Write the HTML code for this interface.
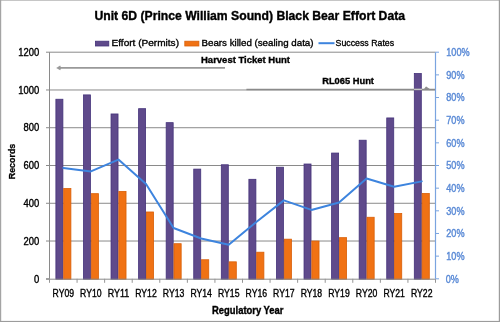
<!DOCTYPE html>
<html><head><meta charset="utf-8"><style>
html,body{margin:0;padding:0;background:#fff;}
body{width:500px;height:322px;overflow:hidden;position:relative;}
svg{position:absolute;left:0;top:0;will-change:transform;}
text{font-family:"Liberation Sans",sans-serif;}
</style></head><body>
<svg width="500" height="322" viewBox="0 0 500 322">
<rect x="0" y="0" width="500" height="322" fill="#fff"/>
<line x1="46.0" y1="278.80" x2="49.5" y2="278.80" stroke="#8a8a8a" stroke-width="1"/>
<line x1="46.0" y1="241.03" x2="435.5" y2="241.03" stroke="#8a8a8a" stroke-width="1"/>
<line x1="46.0" y1="203.27" x2="435.5" y2="203.27" stroke="#8a8a8a" stroke-width="1"/>
<line x1="46.0" y1="165.50" x2="435.5" y2="165.50" stroke="#8a8a8a" stroke-width="1"/>
<line x1="46.0" y1="127.73" x2="435.5" y2="127.73" stroke="#8a8a8a" stroke-width="1"/>
<line x1="46.0" y1="89.97" x2="435.5" y2="89.97" stroke="#8a8a8a" stroke-width="1"/>
<line x1="46.0" y1="52.20" x2="435.5" y2="52.20" stroke="#8a8a8a" stroke-width="1"/>
<line x1="49.5" y1="52.2" x2="49.5" y2="278.8" stroke="#8a8a8a" stroke-width="1"/>
<rect x="55.89" y="99.24" width="7.00" height="179.96" fill="#5f4a8b" stroke="#44327a" stroke-width="0.8"/>
<rect x="63.69" y="188.56" width="7.20" height="90.64" fill="#f07214" stroke="#d95f08" stroke-width="0.8"/>
<rect x="83.46" y="94.90" width="7.00" height="184.30" fill="#5f4a8b" stroke="#44327a" stroke-width="0.8"/>
<rect x="91.26" y="193.66" width="7.20" height="85.54" fill="#f07214" stroke="#d95f08" stroke-width="0.8"/>
<rect x="111.03" y="113.97" width="7.00" height="165.23" fill="#5f4a8b" stroke="#44327a" stroke-width="0.8"/>
<rect x="118.83" y="191.39" width="7.20" height="87.81" fill="#f07214" stroke="#d95f08" stroke-width="0.8"/>
<rect x="138.60" y="108.68" width="7.00" height="170.52" fill="#5f4a8b" stroke="#44327a" stroke-width="0.8"/>
<rect x="146.40" y="211.98" width="7.20" height="67.22" fill="#f07214" stroke="#d95f08" stroke-width="0.8"/>
<rect x="166.17" y="122.66" width="7.00" height="156.54" fill="#5f4a8b" stroke="#44327a" stroke-width="0.8"/>
<rect x="173.97" y="243.70" width="7.20" height="35.50" fill="#f07214" stroke="#d95f08" stroke-width="0.8"/>
<rect x="193.74" y="169.11" width="7.00" height="110.09" fill="#5f4a8b" stroke="#44327a" stroke-width="0.8"/>
<rect x="201.54" y="259.75" width="7.20" height="19.45" fill="#f07214" stroke="#d95f08" stroke-width="0.8"/>
<rect x="221.31" y="164.77" width="7.00" height="114.43" fill="#5f4a8b" stroke="#44327a" stroke-width="0.8"/>
<rect x="229.11" y="261.83" width="7.20" height="17.37" fill="#f07214" stroke="#d95f08" stroke-width="0.8"/>
<rect x="248.89" y="179.31" width="7.00" height="99.89" fill="#5f4a8b" stroke="#44327a" stroke-width="0.8"/>
<rect x="256.69" y="252.20" width="7.20" height="27.00" fill="#f07214" stroke="#d95f08" stroke-width="0.8"/>
<rect x="276.46" y="167.22" width="7.00" height="111.98" fill="#5f4a8b" stroke="#44327a" stroke-width="0.8"/>
<rect x="284.26" y="239.17" width="7.20" height="40.03" fill="#f07214" stroke="#d95f08" stroke-width="0.8"/>
<rect x="304.03" y="164.01" width="7.00" height="115.19" fill="#5f4a8b" stroke="#44327a" stroke-width="0.8"/>
<rect x="311.83" y="241.06" width="7.20" height="38.14" fill="#f07214" stroke="#d95f08" stroke-width="0.8"/>
<rect x="331.60" y="153.06" width="7.00" height="126.14" fill="#5f4a8b" stroke="#44327a" stroke-width="0.8"/>
<rect x="339.40" y="237.66" width="7.20" height="41.54" fill="#f07214" stroke="#d95f08" stroke-width="0.8"/>
<rect x="359.17" y="140.22" width="7.00" height="138.98" fill="#5f4a8b" stroke="#44327a" stroke-width="0.8"/>
<rect x="366.97" y="217.26" width="7.20" height="61.94" fill="#f07214" stroke="#d95f08" stroke-width="0.8"/>
<rect x="386.74" y="117.94" width="7.00" height="161.26" fill="#5f4a8b" stroke="#44327a" stroke-width="0.8"/>
<rect x="394.54" y="213.49" width="7.20" height="65.71" fill="#f07214" stroke="#d95f08" stroke-width="0.8"/>
<rect x="414.31" y="73.56" width="7.00" height="205.64" fill="#5f4a8b" stroke="#44327a" stroke-width="0.8"/>
<rect x="422.11" y="193.47" width="7.20" height="85.73" fill="#f07214" stroke="#d95f08" stroke-width="0.8"/>
<line x1="46.0" y1="279.2" x2="435.5" y2="279.2" stroke="#8a8a8a" stroke-width="1"/>
<line x1="49.50" y1="278.8" x2="49.50" y2="282.8" stroke="#959595" stroke-width="1"/>
<line x1="77.07" y1="278.8" x2="77.07" y2="282.8" stroke="#959595" stroke-width="1"/>
<line x1="104.64" y1="278.8" x2="104.64" y2="282.8" stroke="#959595" stroke-width="1"/>
<line x1="132.21" y1="278.8" x2="132.21" y2="282.8" stroke="#959595" stroke-width="1"/>
<line x1="159.79" y1="278.8" x2="159.79" y2="282.8" stroke="#959595" stroke-width="1"/>
<line x1="187.36" y1="278.8" x2="187.36" y2="282.8" stroke="#959595" stroke-width="1"/>
<line x1="214.93" y1="278.8" x2="214.93" y2="282.8" stroke="#959595" stroke-width="1"/>
<line x1="242.50" y1="278.8" x2="242.50" y2="282.8" stroke="#959595" stroke-width="1"/>
<line x1="270.07" y1="278.8" x2="270.07" y2="282.8" stroke="#959595" stroke-width="1"/>
<line x1="297.64" y1="278.8" x2="297.64" y2="282.8" stroke="#959595" stroke-width="1"/>
<line x1="325.21" y1="278.8" x2="325.21" y2="282.8" stroke="#959595" stroke-width="1"/>
<line x1="352.79" y1="278.8" x2="352.79" y2="282.8" stroke="#959595" stroke-width="1"/>
<line x1="380.36" y1="278.8" x2="380.36" y2="282.8" stroke="#959595" stroke-width="1"/>
<line x1="407.93" y1="278.8" x2="407.93" y2="282.8" stroke="#959595" stroke-width="1"/>
<line x1="435.50" y1="278.8" x2="435.50" y2="282.8" stroke="#959595" stroke-width="1"/>
<line x1="435.5" y1="52.2" x2="435.5" y2="278.8" stroke="#7aa4e0" stroke-width="1.2"/>
<line x1="435.5" y1="278.80" x2="439.0" y2="278.80" stroke="#7aa4e0" stroke-width="1"/>
<line x1="435.5" y1="256.14" x2="439.0" y2="256.14" stroke="#7aa4e0" stroke-width="1"/>
<line x1="435.5" y1="233.48" x2="439.0" y2="233.48" stroke="#7aa4e0" stroke-width="1"/>
<line x1="435.5" y1="210.82" x2="439.0" y2="210.82" stroke="#7aa4e0" stroke-width="1"/>
<line x1="435.5" y1="188.16" x2="439.0" y2="188.16" stroke="#7aa4e0" stroke-width="1"/>
<line x1="435.5" y1="165.50" x2="439.0" y2="165.50" stroke="#7aa4e0" stroke-width="1"/>
<line x1="435.5" y1="142.84" x2="439.0" y2="142.84" stroke="#7aa4e0" stroke-width="1"/>
<line x1="435.5" y1="120.18" x2="439.0" y2="120.18" stroke="#7aa4e0" stroke-width="1"/>
<line x1="435.5" y1="97.52" x2="439.0" y2="97.52" stroke="#7aa4e0" stroke-width="1"/>
<line x1="435.5" y1="74.86" x2="439.0" y2="74.86" stroke="#7aa4e0" stroke-width="1"/>
<line x1="435.5" y1="52.20" x2="439.0" y2="52.20" stroke="#7aa4e0" stroke-width="1"/>
<polyline points="63.29,167.99 90.86,171.39 118.43,159.61 146.00,184.08 173.57,228.04 201.14,238.47 228.71,244.81 256.29,221.92 283.86,200.40 311.43,209.91 339.00,202.44 366.57,178.42 394.14,186.80 421.71,181.36" fill="none" stroke="#3d84de" stroke-width="2" stroke-linejoin="round" stroke-linecap="round"/>
<line x1="59" y1="67.9" x2="225" y2="67.9" stroke="#999999" stroke-width="1.8"/>
<path d="M56.2,67.9 L60.2,65.6 L61.2,67.9 L60.2,70.2 Z" fill="#999999"/>
<line x1="246.4" y1="89.5" x2="435" y2="89.5" stroke="#8a8a8a" stroke-width="1.6"/>
<line x1="414.11" y1="89.4" x2="421.91" y2="89.4" stroke="#c4c4c4" stroke-width="1.3"/>
<path d="M424.3,89.6 L426.2,87.2 L429.8,89.8" fill="none" stroke="#8f8f8f" stroke-width="1.2" stroke-linejoin="round"/>
<text x="94.5" y="19.5" font-size="12" text-anchor="start" font-weight="bold" fill="#000" textLength="310.5" lengthAdjust="spacingAndGlyphs" stroke="#000" stroke-width="0.35">Unit 6D (Prince William Sound) Black Bear Effort Data</text>
<rect x="95.4" y="41.2" width="13.4" height="4.8" fill="#5f4a8b" stroke="#44327a" stroke-width="0.8"/>
<text x="111.5" y="46.4" font-size="9.5" text-anchor="start" font-weight="normal" fill="#000" textLength="67.5" lengthAdjust="spacingAndGlyphs" stroke="#000" stroke-width="0.35">Effort (Permits)</text>
<rect x="184.8" y="41.2" width="14.1" height="4.8" fill="#f07214" stroke="#d95f08" stroke-width="0.8"/>
<text x="201.5" y="46.4" font-size="9.5" text-anchor="start" font-weight="normal" fill="#000" textLength="112" lengthAdjust="spacingAndGlyphs" stroke="#000" stroke-width="0.35">Bears killed (sealing data)</text>
<line x1="318.5" y1="43.2" x2="334.5" y2="43.2" stroke="#3d84de" stroke-width="2"/>
<text x="335.6" y="46.4" font-size="9.5" text-anchor="start" font-weight="normal" fill="#000" textLength="58.5" lengthAdjust="spacingAndGlyphs" stroke="#000" stroke-width="0.35">Success Rates</text>
<text x="39.2" y="282.5" font-size="10" text-anchor="end" font-weight="normal" fill="#000" textLength="5.25" lengthAdjust="spacingAndGlyphs" stroke="#000" stroke-width="0.35">0</text>
<text x="39.2" y="244.73333333333332" font-size="10" text-anchor="end" font-weight="normal" fill="#000" textLength="15.75" lengthAdjust="spacingAndGlyphs" stroke="#000" stroke-width="0.35">200</text>
<text x="39.2" y="206.96666666666664" font-size="10" text-anchor="end" font-weight="normal" fill="#000" textLength="15.75" lengthAdjust="spacingAndGlyphs" stroke="#000" stroke-width="0.35">400</text>
<text x="39.2" y="169.2" font-size="10" text-anchor="end" font-weight="normal" fill="#000" textLength="15.75" lengthAdjust="spacingAndGlyphs" stroke="#000" stroke-width="0.35">600</text>
<text x="39.2" y="131.4333333333333" font-size="10" text-anchor="end" font-weight="normal" fill="#000" textLength="15.75" lengthAdjust="spacingAndGlyphs" stroke="#000" stroke-width="0.35">800</text>
<text x="39.2" y="93.66666666666664" font-size="10" text-anchor="end" font-weight="normal" fill="#000" textLength="21.0" lengthAdjust="spacingAndGlyphs" stroke="#000" stroke-width="0.35">1000</text>
<text x="39.2" y="55.90000000000002" font-size="10" text-anchor="end" font-weight="normal" fill="#000" textLength="21.0" lengthAdjust="spacingAndGlyphs" stroke="#000" stroke-width="0.35">1200</text>
<text x="445.7" y="282.5" font-size="10" text-anchor="start" font-weight="normal" fill="#5a8ad6" textLength="13.1" lengthAdjust="spacingAndGlyphs" stroke="#5a8ad6" stroke-width="0.4">0%</text>
<text x="446.3" y="259.84" font-size="10" text-anchor="start" font-weight="normal" fill="#5a8ad6" textLength="18.2" lengthAdjust="spacingAndGlyphs" stroke="#5a8ad6" stroke-width="0.4">10%</text>
<text x="446.3" y="237.18" font-size="10" text-anchor="start" font-weight="normal" fill="#5a8ad6" textLength="18.2" lengthAdjust="spacingAndGlyphs" stroke="#5a8ad6" stroke-width="0.4">20%</text>
<text x="446.3" y="214.51999999999998" font-size="10" text-anchor="start" font-weight="normal" fill="#5a8ad6" textLength="18.2" lengthAdjust="spacingAndGlyphs" stroke="#5a8ad6" stroke-width="0.4">30%</text>
<text x="446.3" y="191.86" font-size="10" text-anchor="start" font-weight="normal" fill="#5a8ad6" textLength="18.2" lengthAdjust="spacingAndGlyphs" stroke="#5a8ad6" stroke-width="0.4">40%</text>
<text x="446.3" y="169.2" font-size="10" text-anchor="start" font-weight="normal" fill="#5a8ad6" textLength="18.2" lengthAdjust="spacingAndGlyphs" stroke="#5a8ad6" stroke-width="0.4">50%</text>
<text x="446.3" y="146.54" font-size="10" text-anchor="start" font-weight="normal" fill="#5a8ad6" textLength="18.2" lengthAdjust="spacingAndGlyphs" stroke="#5a8ad6" stroke-width="0.4">60%</text>
<text x="446.3" y="123.88000000000001" font-size="10" text-anchor="start" font-weight="normal" fill="#5a8ad6" textLength="18.2" lengthAdjust="spacingAndGlyphs" stroke="#5a8ad6" stroke-width="0.4">70%</text>
<text x="446.3" y="101.22000000000001" font-size="10" text-anchor="start" font-weight="normal" fill="#5a8ad6" textLength="18.2" lengthAdjust="spacingAndGlyphs" stroke="#5a8ad6" stroke-width="0.4">80%</text>
<text x="446.3" y="78.55999999999999" font-size="10" text-anchor="start" font-weight="normal" fill="#5a8ad6" textLength="18.2" lengthAdjust="spacingAndGlyphs" stroke="#5a8ad6" stroke-width="0.4">90%</text>
<text x="446.3" y="55.89999999999999" font-size="10" text-anchor="start" font-weight="normal" fill="#5a8ad6" textLength="23.299999999999997" lengthAdjust="spacingAndGlyphs" stroke="#5a8ad6" stroke-width="0.4">100%</text>
<text x="63.29" y="296.8" font-size="10" text-anchor="middle" font-weight="normal" fill="#000" textLength="21.5" lengthAdjust="spacingAndGlyphs" stroke="#000" stroke-width="0.35">RY09</text>
<text x="90.86" y="296.8" font-size="10" text-anchor="middle" font-weight="normal" fill="#000" textLength="21.5" lengthAdjust="spacingAndGlyphs" stroke="#000" stroke-width="0.35">RY10</text>
<text x="118.43" y="296.8" font-size="10" text-anchor="middle" font-weight="normal" fill="#000" textLength="21.5" lengthAdjust="spacingAndGlyphs" stroke="#000" stroke-width="0.35">RY11</text>
<text x="146.00" y="296.8" font-size="10" text-anchor="middle" font-weight="normal" fill="#000" textLength="21.5" lengthAdjust="spacingAndGlyphs" stroke="#000" stroke-width="0.35">RY12</text>
<text x="173.57" y="296.8" font-size="10" text-anchor="middle" font-weight="normal" fill="#000" textLength="21.5" lengthAdjust="spacingAndGlyphs" stroke="#000" stroke-width="0.35">RY13</text>
<text x="201.14" y="296.8" font-size="10" text-anchor="middle" font-weight="normal" fill="#000" textLength="21.5" lengthAdjust="spacingAndGlyphs" stroke="#000" stroke-width="0.35">RY14</text>
<text x="228.71" y="296.8" font-size="10" text-anchor="middle" font-weight="normal" fill="#000" textLength="21.5" lengthAdjust="spacingAndGlyphs" stroke="#000" stroke-width="0.35">RY15</text>
<text x="256.29" y="296.8" font-size="10" text-anchor="middle" font-weight="normal" fill="#000" textLength="21.5" lengthAdjust="spacingAndGlyphs" stroke="#000" stroke-width="0.35">RY16</text>
<text x="283.86" y="296.8" font-size="10" text-anchor="middle" font-weight="normal" fill="#000" textLength="21.5" lengthAdjust="spacingAndGlyphs" stroke="#000" stroke-width="0.35">RY17</text>
<text x="311.43" y="296.8" font-size="10" text-anchor="middle" font-weight="normal" fill="#000" textLength="21.5" lengthAdjust="spacingAndGlyphs" stroke="#000" stroke-width="0.35">RY18</text>
<text x="339.00" y="296.8" font-size="10" text-anchor="middle" font-weight="normal" fill="#000" textLength="21.5" lengthAdjust="spacingAndGlyphs" stroke="#000" stroke-width="0.35">RY19</text>
<text x="366.57" y="296.8" font-size="10" text-anchor="middle" font-weight="normal" fill="#000" textLength="21.5" lengthAdjust="spacingAndGlyphs" stroke="#000" stroke-width="0.35">RY20</text>
<text x="394.14" y="296.8" font-size="10" text-anchor="middle" font-weight="normal" fill="#000" textLength="21.5" lengthAdjust="spacingAndGlyphs" stroke="#000" stroke-width="0.35">RY21</text>
<text x="421.71" y="296.8" font-size="10" text-anchor="middle" font-weight="normal" fill="#000" textLength="21.5" lengthAdjust="spacingAndGlyphs" stroke="#000" stroke-width="0.35">RY22</text>
<text x="212" y="313.7" font-size="10" text-anchor="start" font-weight="bold" fill="#000" textLength="71.5" lengthAdjust="spacingAndGlyphs" stroke="#000" stroke-width="0.35">Regulatory Year</text>
<text x="0" y="0" font-size="9.5" font-weight="bold" transform="translate(14.6,161.5) rotate(-90)" text-anchor="middle" textLength="35.5" lengthAdjust="spacingAndGlyphs" stroke="#000" stroke-width="0.3">Records</text>
<text x="201" y="63" font-size="9.5" text-anchor="start" font-weight="bold" fill="#000" textLength="89" lengthAdjust="spacingAndGlyphs" stroke="#000" stroke-width="0.35">Harvest Ticket Hunt</text>
<text x="322.2" y="84.2" font-size="9.5" text-anchor="start" font-weight="bold" fill="#000" textLength="51.8" lengthAdjust="spacingAndGlyphs" stroke="#000" stroke-width="0.35">RL065 Hunt</text>
<rect x="0" y="0" width="500" height="1" fill="#c6c6c6"/>
<rect x="0" y="0" width="1.2" height="322" fill="#a4a4a4"/>
<rect x="498.8" y="0" width="1.2" height="322" fill="#9c9c9c"/>
<rect x="0" y="320.9" width="500" height="1.1" fill="#9c9c9c"/>
</svg>
</body></html>
